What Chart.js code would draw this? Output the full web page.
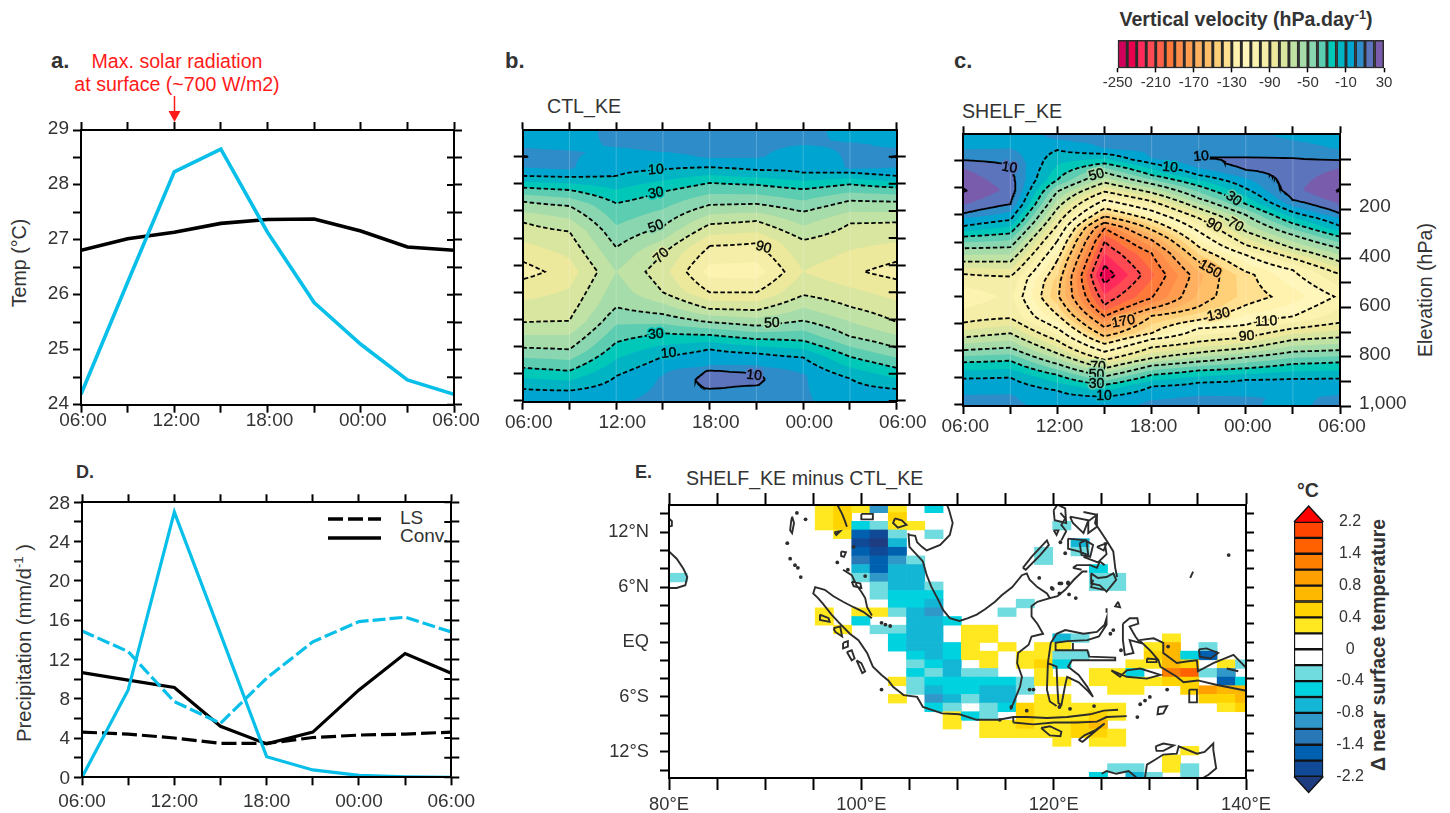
<!DOCTYPE html>
<html>
<head>
<meta charset="utf-8">
<title>Diurnal cycle panels</title>
<script src="https://cdn.jsdelivr.net/npm/chart.js@4"></script>
<style>
  body { margin: 0; background: #fff; width: 1450px; height: 813px; overflow: hidden; position: relative; font-family: "Liberation Sans", Arial, sans-serif; color: #333; }
  canvas { position: absolute; }
  .t { position: absolute; white-space: nowrap; transform: translate(-50%, -50%); line-height: 1; }
  .l { position: absolute; white-space: nowrap; transform: translateY(-50%); line-height: 1; }
  .v { position: absolute; white-space: nowrap; transform: translate(-50%, -50%) rotate(-90deg); line-height: 1; }
  sup { font-size: 65%; line-height: 0; }
  svg { position: absolute; left: 0; top: 0; }
</style>
</head>
<body>
<div class="l" style="left:51px;top:61px;font-size:22px;font-weight:bold">a.</div>
<div class="l" style="left:505px;top:61px;font-size:22px;font-weight:bold">b.</div>
<div class="l" style="left:954px;top:61px;font-size:22px;font-weight:bold">c.</div>
<div class="l" style="left:76px;top:472px;font-size:18px;font-weight:bold">D.</div>
<div class="l" style="left:635px;top:472px;font-size:18px;font-weight:bold">E.</div>
<div class="t" style="left:177px;top:62px;font-size:19.6px;color:#ff1a1a">Max. solar radiation</div>
<div class="t" style="left:177px;top:85px;font-size:19.6px;color:#ff1a1a">at surface (~700 W/m2)</div>
<div class="l" style="left:547px;top:107px;font-size:19.6px">CTL_KE</div>
<div class="l" style="left:962px;top:112px;font-size:19.6px">SHELF_KE</div>
<div class="l" style="left:686px;top:479px;font-size:19.6px">SHELF_KE minus CTL_KE</div>
<div class="t" style="left:1246px;top:20px;font-size:19.6px;font-weight:bold">Vertical velocity (hPa.day<sup>-1</sup>)</div>
<div class="v" style="left:20px;top:263px;font-size:19.6px">Temp (°C)</div>
<div class="v" style="left:24px;top:643px;font-size:20.2px">Precipitation (mm/d<sup>-1</sup> )</div>
<div class="v" style="left:1426px;top:290px;font-size:19.6px">Elevation (hPa)</div>
<div class="t" style="left:1308px;top:491px;font-size:19.5px;font-weight:bold">°C</div>
<div class="v" style="left:1379px;top:645px;font-size:19.4px;font-weight:bold">Δ near surface temperature</div>
<div class="l" style="left:400px;top:517px;font-size:19px">LS</div>
<div class="l" style="left:400px;top:535px;font-size:19px">Conv.</div>
<svg width="1450" height="813" style="z-index:5;pointer-events:none">
  <line x1="174.5" y1="96" x2="174.5" y2="113" stroke="#ff1a1a" stroke-width="1.5"/>
  <polygon points="168.5,111 180.5,111 174.5,122" fill="#ff1a1a"/>
  <line x1="328" y1="519" x2="381" y2="519" stroke="#000" stroke-width="3.5" stroke-dasharray="15 5"/>
  <line x1="328" y1="538" x2="381" y2="538" stroke="#000" stroke-width="3.5"/>
</svg>
<script>
// ---------- data ----------
const hourLabels = ['06:00', '', '12:00', '', '18:00', '', '00:00', '', '06:00'];
const hourIndex = [0, 1, 2, 3, 4, 5, 6, 7, 8];

// panel a
const tempTicks = [24, 24.5, 25, 25.5, 26, 26.5, 27, 27.5, 28, 28.5, 29];
const tempTickLabels = ['24', '', '25', '', '26', '', '27', '', '28', '', '29'];
const tempShelf = [24.19, 26.23, 28.24, 28.65, 27.14, 25.86, 25.1, 24.45, 24.19];
const tempCtl = [26.81, 27.02, 27.14, 27.3, 27.37, 27.38, 27.16, 26.87, 26.81];

// panel D
const rainTicks = [0, 2, 4, 6, 8, 10, 12, 14, 16, 18, 20, 22, 24, 26, 28];
const rainTickLabels = ['0', '', '4', '', '8', '', '12', '', '16', '', '20', '', '24', '', '28'];
const convShelf = [0, 8.9, 27, 14.6, 2.1, 0.75, 0.2, 0.05, 0];
const lsShelf = [14.9, 12.8, 7.7, 5.5, 10.1, 13.8, 15.85, 16.3, 14.8];
const convCtl = [10.65, 9.9, 9.15, 5.2, 3.4, 4.6, 8.9, 12.6, 10.6];
const lsCtl = [4.6, 4.4, 4.0, 3.45, 3.45, 4.05, 4.3, 4.4, 4.6];

// vertical velocity colour key
const velLevels = [-250, -240, -230, -220, -210, -200, -190, -180, -170, -160, -150, -140, -130, -120, -110, -100, -90, -80, -70, -60, -50, -40, -30, -20, -10, 0, 10, 20, 30];
const velColors = ['#d0005a', '#e8004f', '#ff2a5c', '#ff4a54', '#ff6048', '#ff7a3a', '#ff8c48', '#ff9c50', '#ffb060', '#ffbe68', '#ffd078', '#ffe090', '#fff2ae', '#fff6bc', '#fdf3b0', '#f5eea8', '#ece89c', '#d9e6a0', '#c0e2a4', '#a6dcaa', '#8ad6b0', '#5ccdb0', '#00c8b8', '#00b4c4', '#00a4d0', '#2e8cc8', '#5c74bc', '#7a5cac'];
const velTicks = [-250, -210, -170, -130, -90, -50, -10, 30];

// model level of each tick on the left of panels b and c
const levelTicks = [1, 2, 3, 4, 5, 6, 7, 8, 9, 10];
const pressureTicks = [0, 100, 200, 300, 400, 500, 600, 700, 800, 900, 1000];
const pressureLabels = ['', '', '200', '', '400', '', '600', '', '800', '', '1,000'];

// panel b: [level, velocity] read down each 3-hourly column
const ctl06 = [[.03,-4],[.6,-1],[.75,1],[1,11],[1.3,1],[1.5,-1],[1.71,-10],[2.14,-30],[2.66,-50],[3.42,-70],[4.87,-90],[5.24,-94.5],[5.52,-90],[7.1,-70],[8.04,-50],[8.78,-30],[9.56,-10],[10.03,-4]];
const ctl09 = [[.03,-3],[.7,-1],[.85,1],[1.4,1],[1.55,-1],[1.75,-10],[2.23,-30],[2.82,-50],[3.76,-70],[5.24,-85],[7.05,-70],[8.1,-50],[8.89,-30],[9.62,-10],[10.03,-4]];
const ctl12 = [[.03,2],[.6,.5],[.75,-1],[1.71,-10],[2.72,-30],[4.34,-50],[5.24,-60],[6.55,-50],[7.84,-30],[9.08,-10],[10.03,-1]];
const ctl15 = [[.03,3],[.75,1],[.9,-1],[1.47,-10],[2.29,-30],[3.58,-50],[4.56,-70],[5.24,-76],[6,-70],[6.8,-50],[7.51,-30],[8.37,-10],[8.95,-1],[9.15,1],[10.03,3]];
const ctl18 = [[.03,4],[1,1],[1.1,-1],[1.39,-10],[1.97,-30],[2.78,-50],[3.49,-70],[4.29,-90],[5.24,-104],[6,-90],[6.61,-70],[7.1,-50],[7.57,-30],[8.1,-10],[8.6,-1],[8.75,1],[8.9,11],[9.23,14],[9.53,11],[9.7,4],[10.03,3]];
const ctl21 = [[.03,3],[1,1],[1.1,-1],[1.49,-10],[2.04,-30],[2.74,-50],[3.37,-70],[4.19,-90],[5.24,-105],[6,-90],[6.66,-70],[7.23,-50],[7.72,-30],[8.25,-10],[8.6,-1],[8.75,1],[8.98,10.5],[9.2,12],[9.41,10.5],[9.7,3],[10.03,2]];
const ctl00 = [[.03,3],[.5,1],[.65,-1],[1.59,-10],[2.2,-30],[3.03,-50],[4.07,-70],[5.24,-80],[6.1,-70],[7.04,-50],[7.78,-30],[8.4,-10],[8.95,-1],[9.05,1],[10.03,1]];
const ctl03 = [[.03,-3],[.4,-1],[.55,1],[1.4,1],[1.5,-1],[1.59,-10],[2.02,-30],[2.62,-50],[3.46,-70],[5.24,-88],[6.53,-70],[7.63,-50],[8.37,-30],[9.17,-10],[10.03,-3]];
const ctlProfiles = [ctl06, ctl09, ctl12, ctl15, ctl18, ctl21, ctl00, ctl03, ctl06];
// [time, level, text, angle]
const ctlLabels = [[2.85,1.49,'10',-3],[2.85,2.35,'30',-10],[2.85,3.58,'50',-20],[2.97,4.65,'70',-45],[5.15,4.35,'90',15],[5.33,7.14,'50',-2],[2.85,7.55,'30',-5],[3.12,8.25,'10',-5],[4.95,9.07,'10',5]];

// panel c
const shelf06 = [[.03,-5],[.55,-1],[.61,1],[.98,10],[1.28,20],[2.1,31],[2.63,20],[2.94,10],[3.12,0],[3.41,-10],[3.8,-30],[4.23,-50],[4.72,-70],[5.18,-90],[6.01,-108],[6.97,-90],[7.51,-70],[7.98,-50],[8.43,-30],[9.03,-10],[9.57,-1],[9.7,1],[10.04,3]];
const shelf09 = [[.03,-4],[.48,-1],[.61,1],[1.16,10],[2.08,17],[2.6,10],[2.88,0],[3.19,-10],[3.68,-30],[4.19,-50],[4.72,-70],[5.27,-90],[6.01,-97],[6.8,-90],[7.36,-70],[7.89,-50],[8.37,-30],[8.99,-10],[9.51,-1],[9.7,1],[10.04,2]];
const shelf12 = [[.03,2],[.18,.5],[.3,-1],[.61,-10],[1.71,-30],[2.14,-50],[2.76,-70],[3.37,-90],[3.95,-110],[4.66,-130],[5.46,-145],[6.01,-148],[6.68,-130],[7.18,-110],[7.63,-90],[8.1,-70],[8.49,-50],[8.89,-30],[9.47,-10],[10.04,-3]];
const shelf15 = [[.03,3],[.48,1],[.61,-1],[.75,-10],[1.1,-30],[1.44,-50],[1.81,-70],[2.14,-90],[2.45,-110],[2.76,-130],[3.06,-150],[3.28,-170],[3.49,-190],[3.98,-210],[4.87,-230],[5.21,-238],[5.52,-230],[6.32,-210],[6.74,-190],[7.14,-170],[7.48,-150],[7.75,-130],[8.04,-110],[8.34,-90],[8.65,-70],[8.95,-50],[9.26,-30],[9.7,-10],[10.04,-3]];
const shelf18 = [[.03,3],[.85,1],[.95,-1],[1.1,-10],[1.53,-30],[1.86,-50],[2.18,-70],[2.49,-90],[2.84,-110],[3.19,-130],[3.55,-150],[3.92,-170],[4.41,-190],[5.21,-202],[6.07,-190],[6.44,-170],[6.72,-150],[7.36,-130],[7.58,-110],[7.88,-90],[8.28,-70],[8.55,-50],[8.89,-30],[9.32,-10],[9.75,-1],[9.88,1],[10.04,2]];
const shelf21 = [[.03,3],[.55,2],[.9,10.5],[1.28,0],[1.53,-10],[1.93,-30],[2.39,-50],[2.76,-70],[3.12,-90],[3.61,-110],[4.17,-130],[4.72,-150],[5.21,-163],[6.01,-158],[6.38,-150],[6.87,-130],[7.18,-110],[7.67,-90],[8.07,-70],[8.4,-50],[8.73,-30],[9.18,-10],[9.6,-1],[9.72,1],[10.04,2]];
const shelf00 = [[.03,2],[.48,4],[.88,10],[1.1,14],[1.34,10],[1.65,0],[2.02,-10],[2.6,-30],[3,-50],[3.61,-70],[4.11,-90],[4.47,-110],[5.09,-130],[5.21,-134],[6.01,-136],[6.32,-130],[7.05,-110],[7.52,-90],[7.91,-70],[8.24,-50],[8.65,-30],[9.08,-10],[9.63,-1],[9.75,1],[10.04,1]];
const shelf03 = [[.03,-2],[.3,.5],[.91,10],[1.34,15],[2.08,17],[2.45,10],[2.69,0],[2.9,-10],[3.31,-30],[3.74,-50],[4.23,-70],[4.6,-90],[5.03,-110],[6.01,-125],[6.74,-110],[7.18,-90],[7.6,-70],[8.04,-50],[8.49,-30],[9.04,-10],[9.57,-1],[10.04,-2]];
const shelfProfiles = [shelf06, shelf09, shelf12, shelf15, shelf18, shelf21, shelf00, shelf03, shelf06];
const shelfLabels = [[.98,1.26,'10',10],[2.83,1.53,'50',-15],[4.39,1.26,'10',5],[5.05,.85,'10',-5],[5.74,2.41,'30',35],[5.78,3.37,'70',30],[5.32,3.39,'90',30],[5.24,5,'150',30],[3.4,6.93,'170',-10],[5.42,6.68,'130',-12],[6.43,6.93,'110',-3],[6.02,7.48,'90',-5],[2.86,8.59,'70',0],[2.83,8.9,'50',0],[2.83,9.22,'30',0],[2.99,9.69,'10',0]];

// panel E: temperature key
const sstColors = { '2.5': '#ff0000', '2': '#ff4500', '1.6': '#ff6000', '1.25': '#ff7f00', '.95': '#ff9f00', '.7': '#ffb800', '.5': '#ffd400', '.3': '#ffe81f', '-.3': '#70dcdf', '-.5': '#00d2e0', '-.7': '#14b6d6', '-.95': '#3098c8', '-1.25': '#2878b8', '-1.6': '#0060b0', '-2': '#104a96', '-2.5': '#1e3c80' };
const keyValues = [-2, -1.6, -1.25, -.95, -.7, -.5, -.3, 0, 0, .3, .5, .7, .95, 1.25, 1.6, 2];
const keyLabels = ['-2.2', '', '-1.4', '', '-0.8', '', '-0.4', '', '0', '', '0.4', '', '0.8', '', '1.4', '', '2.2'];

// panel E: rows of [column, anomaly] from the north edge southward
const sstRows = [
  [[8,.3],[9,.5],[10,.3],[11,-.95],[12,.3],[14,-.5]],
  [[8,.3],[9,.5],[12,.5]],
  [[8,.3],[9,.5],[10,-.5],[11,-.3],[12,.3],[13,.3],[21,-.3]],
  [[9,.3],[10,-1.6],[11,-2],[12,-.3],[14,-.3]],
  [[10,-2],[11,-2.5],[12,-.7],[22,-.7]],
  [[10,-1.6],[11,-2],[12,-1.6],[20,-.3],[22,-.3]],
  [[10,-1.25],[11,-1.6],[12,-.95],[13,-.3],[20,-.3]],
  [[10,-.7],[11,-1.6],[12,-.7],[13,-.7],[23,-.5]],
  [[0,-.3],[10,-.3],[11,-.95],[12,-.7],[13,-.7],[23,-.3],[24,-.3]],
  [[11,-.3],[12,-.7],[13,-.7],[14,-.3],[23,-.3],[24,-.3]],
  [[11,-.3],[12,-.5],[13,-.5],[14,-.5]],
  [[12,-.5],[13,-.5],[14,-.7],[19,-.3]],
  [[8,.3],[10,.3],[11,.3],[12,-.3],[13,-.7],[14,-.95],[18,-.3]],
  [[8,.3],[10,-.5],[13,-.7],[14,-.7],[15,-.5]],
  [[9,.3],[11,-.3],[12,-.3],[13,-.7],[14,-.7],[16,.3],[17,.3]],
  [[12,-.5],[13,-.7],[14,-.7],[16,.3],[17,.3],[21,-.7],[22,-.3],[27,.3]],
  [[12,-.5],[13,-.7],[14,-.7],[15,-.5],[16,.3],[18,.3],[20,.3],[21,.3],[26,.3],[27,.7],[29,-.3]],
  [[13,-.5],[14,-.7],[15,-.5],[16,.3],[17,.3],[19,.3],[20,.3],[21,-.3],[22,-.3],[26,.5],[27,.7],[28,-.5],[29,-1.6]],
  [[13,-.3],[14,-.5],[15,-.7],[17,.3],[19,.3],[20,.5],[21,-.5],[25,.3],[26,.3],[27,.7],[28,.5],[30,.3],[31,-.3]],
  [[13,-.5],[14,-.3],[15,-.7],[16,-.3],[17,-.3],[20,.3],[23,.3],[24,.3],[25,-.5],[27,1.25],[28,1.6],[29,-.3],[30,-.95]],
  [[12,.3],[13,-.3],[14,-.5],[15,-.5],[16,-.5],[17,-.5],[18,-.5],[19,-.3],[20,.3],[21,.3],[23,.3],[24,.3],[25,.3],[26,.3],[27,.5],[28,.5],[30,-1.6],[31,-.5]],
  [[13,-.3],[14,-.7],[15,-.5],[16,-.5],[17,-.7],[18,-.7],[19,-.3],[24,.3],[25,.3],[28,.5],[29,.95],[30,.7],[31,.7]],
  [[12,.3],[14,-.95],[15,-.7],[16,-.3],[17,-.7],[18,-.7],[20,.3],[21,.3],[29,.5],[30,.5],[31,.7]],
  [[14,-.5],[15,-.3],[17,-.3],[18,-.5],[19,.5],[20,.3],[21,.3],[22,.3],[23,.3],[24,.3],[30,.3],[31,.5]],
  [[15,.3],[16,-.5],[17,-.3],[19,.5],[20,.3],[21,.3],[22,.3],[23,.5],[24,.3]],
  [[15,.3],[17,.3],[18,.3],[19,.5],[20,.3],[21,.3],[22,.5],[23,.7]],
  [[17,.3],[18,.3],[19,.3],[20,.3],[21,.3],[22,.5],[23,.5],[24,.3]],
  [[21,.3],[23,.3],[24,.3]],
  [[28,.3]],
  [[27,.3]],
  [[24,-.3],[25,-.3],[27,.3],[28,-.3]],
  [[23,-.5],[25,-.7],[26,-.3],[28,-.3]]
];
const firstRowLat = 15.08, rowStep = .9457, firstColLon = 80, colStep = 1.9;

const lonTicks = [80, 85, 90, 95, 100, 105, 110, 115, 120, 125, 130, 135, 140];
const lonLabels = ['80°E', '', '', '', '100°E', '', '', '', '120°E', '', '', '', '140°E'];
const latTicks = [-14, -12, -10, -8, -6, -4, -2, 0, 2, 4, 6, 8, 10, 12, 14];
const latLabels = ['', '12°S', '', '', '6°S', '', '', 'EQ', '', '', '6°N', '', '', '12°N', ''];

// coastlines, [lon, lat]
const coastLines = [
  [[80,9.9],[80.8,9.1],[81.5,8],[81.9,7.1],[81.7,6.2],[80.8,5.9],[80,5.9]],
  [[80,13.5],[80.3,13.2],[80.3,12.7],[80,12.6]],
  [[92.8,13.7],[93,13],[92.8,11.9],[92.6,12.2],[92.7,13.2],[92.8,13.7]],
  [[97.5,15],[98,14],[98.3,13.2],[98.5,12.6]],
  [[97.2,12],[97.8,12.1],[97.4,11.7],[97.2,12]],
  [[97.9,9.9],[98.4,9.8],[98.2,9.3],[97.9,9.4],[97.9,9.9]],
  [[98.1,7.9],[99,7.3],[99.5,6.2],[100,5.5],[100.4,4.8],[100.6,3.8],[101.1,2.9]],
  [[99,6.6],[99.9,6.4],[100,5.9],[99.2,6.1],[99,6.6]],
  [[101.1,2.6],[100.2,3.3],[99.2,3.8],[98.1,4.4],[97.1,5],[96.2,5.7],[95.2,6],[95,5.3],[95.5,4.8],[96,4.2],[96.9,3],[97.6,2.2],[98.8,.9],[99.7,.2],[100.6,-1.2],[101.2,-2.7],[102.1,-3.6],[102.8,-4.2],[103.3,-4.9],[104.4,-5.8],[105.8,-6],[106.4,-7.1],[108.4,-7.8],[110.2,-7.9],[112,-8.5],[114.3,-8.5],[115.8,-8.2],[117.2,-8.2],[119.3,-8.3],[121.4,-8.2],[123.8,-7.9],[125.2,-7.5],[126.7,-7.4]],
  [[115.8,-8.8],[117.9,-9],[120,-8.8],[122.4,-8.8],[124.5,-8.7],[125.5,-8.2],[127.6,-8.1]],
  [[115.8,-8.2],[115.8,-8.8]],
  [[98.1,-.1],[98.6,.1],[98.6,-.5],[98.1,-.7],[98.1,-.1]],
  [[98.5,-1.1],[99,-.9],[99.3,-1.8],[99,-2],[98.5,-1.1]],
  [[99.5,-2],[100,-2.3],[100.4,-3.2],[100.1,-3.4],[99.5,-2]],
  [[95.7,3],[96.6,2.6],[96.7,2.2],[95.7,2.4],[95.7,3]],
  [[97.1,1.5],[97.8,1.7],[98,.6],[97.3,1.1],[97.1,1.5]],
  [[100,14],[101.2,14],[101.2,13.4],[100,13.4],[100,14]],
  [[103.5,13.5],[104.2,13.3],[104.7,12.8],[103.8,12.5],[103.3,13],[103.5,13.5]],
  [[104.9,11.7],[105.6,11.6],[105.8,10.9],[106.3,10.4],[106.8,10],[108.2,10.6],[109.2,11.7],[109.5,13],[109.1,14.5],[108.9,15]],
  [[104.9,11.9],[105,10.4],[105.8,9.5],[106.4,8.8],[106.8,7.3],[107.3,6],[108,4.6],[108.5,3.5],[109.2,2.6],[110.2,2.3],[111.1,2.6],[112,3],[112.9,3.6],[113.9,4.4],[114.6,5.1],[115.7,6],[116.7,7.3],[117.2,7.5],[117.5,6.8],[118.3,6],[119.3,5.3],[119.6,4.8],[120.4,5],[121.2,5.7],[122.1,6.8],[123,7.7],[123.5,7.7]],
  [[119.6,4.8],[118.3,4.4],[117.7,3.9],[117.7,2.8],[118.3,2],[118.9,.9],[117.7,.6],[117.4,-.3],[116.3,-1.2],[116.2,-2.3],[116.7,-3.8],[116.5,-4.9],[115.8,-6.7],[115.5,-7.4]],
  [[118.7,-9.4],[119.6,-9.2],[120.8,-9.8],[120.7,-10.3],[119.6,-10.2],[118.7,-9.4]],
  [[122.6,-10.7],[123.2,-10.2],[124.4,-9.6],[125.3,-8.9],[123,-10.9],[122.6,-10.7]],
  [[119.7,-.1],[120.3,.9],[121.2,1.3],[123.1,.9],[124.5,1.1],[125.3,1.9],[125.5,2.6],[125.5,1.9],[124.7,.6],[123.5,.2],[121.4,.1],[120.2,-.1],[120.2,-.9],[122,-.9],[122,-.1]],
  [[122,-.9],[123.5,-.9],[123.7,-1.6],[126.4,-1.7],[126.4,-2],[123.8,-2],[121.9,-2],[121.5,-2.7],[122.6,-3.6],[123.5,-4.9],[124.1,-6],[123.6,-5.4],[122.6,-4.4],[121.4,-3.8],[121.2,-4.7],[120.8,-6.9],[120.5,-6.7],[120.4,-5.2],[120.3,-2.7],[119.4,-2.3]],
  [[119.7,-.1],[119.4,-2.3],[119.3,-5.2],[119.6,-6.5],[120.3,-7]],
  [[127.2,2],[127.9,2.6],[128.7,2.6],[128.8,2],[127.9,1.7],[128.5,.6],[129,-.1],[127.9,.2],[128.3,-1.2],[127.4,-1.4],[127.2,.2],[127.2,2]],
  [[128.9,.2],[130.4,.4],[131.4,-.1],[131.4,-1.2],[132.8,-2.3],[134,-2.1],[134.9,-2],[135,-3.2],[136.6,-2.3],[138.7,-1.4],[139.9,-2.7],[141,-3]],
  [[128.9,.2],[130,-.9],[130.9,-2],[131.1,-2.7],[132.8,-3.8],[133.5,-4.4],[135,-4.2],[137,-4.7],[139.9,-5.3],[141,-5.6]],
  [[126,-3.1],[126.9,-3.8],[127.6,-3.1],[129,-2.9],[131.1,-3.6],[129.7,-4],[127.6,-3.8],[126,-3.1]],
  [[135.1,-.8],[135.9,-.7],[137.1,-1.2],[136.3,-1.8],[135.2,-1.6],[135.1,-.8]],
  [[138,-2.9],[139.2,-3.2]],
  [[129.7,-1.8],[130.7,-1.9],[130.7,-2.2],[129.7,-2.2],[129.7,-1.8]],
  [[134.1,-5.2],[134.9,-5.2],[134.9,-6.6],[134.1,-6.6],[134.1,-5.2]],
  [[130.9,-7.1],[131.8,-7],[131.4,-7.8],[130.8,-7.9],[130.9,-7.1]],
  [[116.8,8.1],[117.7,9.3],[119.3,11.1],[119.5,10.6],[118.6,9.5],[117.1,7.9],[116.8,8.1]],
  [[123.9,7.5],[124.6,7],[125.5,7.1],[126.2,7.5],[126.5,6.8],[125.5,5.5],[124.8,6.2],[123.9,6.4],[123.9,7.5]],
  [[123.1,14.2],[124.5,13.9],[124.3,13],[125.5,11.1],[126.2,9.9],[126.4,8.1],[126.6,7.1]],
  [[121.5,11.3],[123.4,11.1],[123.6,9.5],[122.6,9.9],[121.5,10.2],[121.5,11.3]],
  [[121.7,13.7],[123.6,13.3],[123.1,11.9],[122,13],[121.7,13.7]],
  [[120,14.4],[120.4,15],[121.2,14.6],[121.3,13],[120.1,13.3],[120,14.4]],
  [[120,12.2],[120.5,12.2],[120.3,11.7],[120,12.2]],
  [[123.1,9.3],[124.6,8.7],[125.5,9.6],[125.3,10.9]],
  [[120.7,14.1],[121.2,13.5],[120.8,12.8],[121.3,12.1],[120.8,11.1]],
  [[123.6,13.2],[124.5,13.9],[124.5,12.6],[123.6,11.9],[123.6,13.2]],
  [[122.7,10.8],[123.3,11.1],[124.1,10.6],[123.8,9.3],[122.9,9.5],[122.7,10.8]],
  [[124.5,10.4],[125.5,10.8],[125.2,10],[124.5,10.4]],
  [[122,8.1],[122.4,8.4],[123.8,8.4],[124.5,8.1],[124.8,8.8],[125.3,8.4]],
  [[122.9,7.9],[122,8.1]],
  [[124.1,6.8],[123.9,6],[125.2,5.7]],
  [[126.7,4.4],[126.4,3.9],[126.9,3.8],[126.7,4.4]],
  [[125.5,3.7],[125.5,3.2]],
  [[134.5,7.7],[134.2,7]],
  [[125,-14.4],[125.5,-14.1],[126.5,-14.4],[127.8,-14.1],[128.6,-14.8]],
  [[129.5,-14.8],[129.7,-13.4],[130.5,-12.9],[131.4,-12.3],[132.8,-12.2],[133,-11.4],[134.9,-12.2],[135.7,-12],[136.6,-11.1],[136.6,-11.8],[136.9,-13.8],[136.1,-14.5],[135.6,-14.8]],
  [[130.6,-11.4],[131.4,-11.1],[132.5,-11.3],[131.4,-11.9],[130.7,-11.9],[130.6,-11.4]]
];
const islandLon = [93.3,94.2,92.3,92.6,93.1,93.4,93.7,99.2,97.5,100.4,98.6,102.1,102.1,102.5,103,118.5,121.2,120.7,119.9,120.6,121.5,126.2,125.9,127,131.8,130,129.5,129,131.9,128.7,124.2,121.7,120.6,115.6,117.2,114.4,117.9,117.5,138.2,121.6,122.3,120.8,121.5,120.6,119.8];
const islandLat = [14.1,13.4,10.8,9.1,8.4,8.1,7.1,10.4,8.7,7.2,7.9,-5.2,2.1,1.9,1.75,7,9.7,10.9,5.8,6.4,6.4,1.3,.9,-.9,-5.2,-6,-6.4,-6.8,-.5,-8.2,-7,-7.3,-7.1,-7.1,-7.5,-8.5,-5.2,-5.2,9.5,5.2,4.8,6.4,6.5,5.3,5.9];

// ---------- helpers ----------
Chart.defaults.font.family = '"Liberation Sans", Arial, sans-serif';
Chart.defaults.color = '#333';
Chart.defaults.animation = false;
Chart.defaults.plugins.legend.display = false;
Chart.defaults.plugins.tooltip.enabled = false;

// puts a canvas on the page so that the plot area lands on the given rectangle
function panel(plot, margin, config) {
  const canvas = document.createElement('canvas');
  const left = Math.floor(plot.l - margin.l), top = Math.floor(plot.t - margin.t);
  const w = Math.ceil(plot.r + margin.r) - left, h = Math.ceil(plot.b + margin.b) - top;
  canvas.width = w; canvas.height = h;
  canvas.style.left = left + 'px'; canvas.style.top = top + 'px';
  canvas.style.width = w + 'px'; canvas.style.height = h + 'px';
  document.body.appendChild(canvas);
  const sizes = { left: plot.l - left, right: left + w - plot.r, top: plot.t - top, bottom: top + h - plot.b };
  const pad = { ...sizes };
  for (const s of Object.values(config.options.scales)) {
    if (s.display === false) continue;
    pad[s.position] = 0;
    s.afterFit = sc => {
      // first and last labels may hang over the plot, they should not shrink it
      sc.paddingLeft = sc.paddingRight = sc.paddingTop = sc.paddingBottom = 0;
      if (sc.isHorizontal()) sc.height = sizes[sc.position]; else sc.width = sizes[sc.position];
    };
  }
  config.options.layout = { autoPadding: false, padding: pad };
  config.options.responsive = false;
  return new Chart(canvas, config);
}

function axis(position, values, labels, extra) {
  const e = extra || {};
  return {
    type: 'linear', position: position, min: e.min, max: e.max, reverse: !!e.reverse, offset: false,
    border: { display: true, width: 2, color: '#000', z: 1 },
    grid: { drawOnChartArea: false, offset: false, tickColor: '#000', tickWidth: 2, tickLength: e.len || 8 },
    ticks: {
      display: !!labels, autoSkip: false, maxRotation: 0, padding: e.pad === undefined ? 4 : e.pad,
      labelOffset: e.shift || 0, color: '#333', font: { size: e.size || 19 },
      callback: (v, i) => labels ? labels[i] : ''
    },
    afterBuildTicks: s => { s.ticks = values.map(v => ({ value: v })); }
  };
}

function series(values) {
  return values.map((v, i) => ({ x: hourIndex[i], y: v }));
}

function lineSet(values, color, width, dash) {
  return { type: 'line', data: series(values), borderColor: color, borderWidth: width, borderDash: dash || [], pointRadius: 0, tension: 0, fill: false, borderJoinStyle: 'miter' };
}

// tick marks that also reach into the plot on the right side
const innerTicks = {
  id: 'innerTicks',
  afterDraw(chart, args, opts) {
    if (!opts.len) return;
    const s = chart.scales[opts.scale], ctx = chart.ctx;
    ctx.save(); ctx.strokeStyle = '#000'; ctx.lineWidth = 2; ctx.beginPath();
    s.ticks.forEach(t => {
      const y = s.getPixelForValue(t.value);
      ctx.moveTo(s.left, y); ctx.lineTo(s.left - opts.len, y);
    });
    ctx.stroke(); ctx.restore();
  }
};
Chart.register(innerTicks);

function profileValue(prof, r) {
  for (let i = 1; i < prof.length; i++) {
    if (r <= prof[i][0]) {
      const f = (r - prof[i - 1][0]) / (prof[i][0] - prof[i - 1][0]);
      return prof[i - 1][1] + (prof[i][1] - prof[i - 1][1]) * Math.max(0, f);
    }
  }
  return prof[prof.length - 1][1];
}

// triangles of the field given by the column profiles, on thin rows so isolines do not stair-step
function buildField(profiles) {
  const all = profiles.flat().map(p => p[0]);
  for (let k = 1; k < 201; k++) all.push(k * .05);
  const lo = Math.min(...profiles.flat().map(p => p[0])), hi = Math.max(...profiles.flat().map(p => p[0]));
  const rows = [...new Set(all.map(r => +r.toFixed(3)))].filter(r => r >= lo && r <= hi).sort((a, b) => a - b);
  const cols = profiles.map(prof => rows.map(r => profileValue(prof, r)));
  const tris = [];
  for (let i = 0; i < cols.length - 1; i++) {
    for (let j = 0; j < rows.length - 1; j++) {
      const a = { x: i, y: rows[j], v: cols[i][j] }, b = { x: i + 1, y: rows[j], v: cols[i + 1][j] };
      const c = { x: i + 1, y: rows[j + 1], v: cols[i + 1][j + 1] }, d = { x: i, y: rows[j + 1], v: cols[i][j + 1] };
      const m = { x: i + .5, y: (rows[j] + rows[j + 1]) / 2, v: (a.v + b.v + c.v + d.v) / 4 };
      tris.push([a, b, m], [b, c, m], [c, d, m], [d, a, m]);
    }
  }
  return tris;
}

function cross(p, q, t) {
  const f = (t - p.v) / (q.v - p.v);
  return { x: p.x + (q.x - p.x) * f, y: p.y + (q.y - p.y) * f, v: t };
}

// isolines joined into polylines, separated by null points for the dataset
function isoline(tris, level) {
  const t = level + 1e-6, segs = [], ends = new Map();
  const key = p => p.x.toFixed(4) + ',' + p.y.toFixed(4);
  tris.forEach(tri => {
    const pts = [];
    for (let i = 0; i < 3; i++) {
      const p = tri[i], q = tri[(i + 1) % 3];
      if ((p.v >= t) !== (q.v >= t)) pts.push(cross(p, q, t));
    }
    if (pts.length === 2) {
      const n = segs.length;
      segs.push(pts);
      pts.forEach(p => { const k = key(p); if (!ends.has(k)) ends.set(k, []); ends.get(k).push(n); });
    }
  });
  const used = new Array(segs.length).fill(false), out = [];
  const walk = (start, line) => {
    let cur = start;
    while (true) {
      const next = (ends.get(key(cur)) || []).find(n => !used[n]);
      if (next === undefined) return;
      used[next] = true;
      const s = segs[next];
      cur = key(s[0]) === key(cur) ? s[1] : s[0];
      line.push(cur);
    }
  };
  segs.forEach((s, n) => {
    if (used[n]) return;
    used[n] = true;
    const tail = [s[0], s[1]];
    walk(s[1], tail);
    const head = [];
    walk(s[0], head);
    head.reverse().concat(tail).forEach(p => out.push({ x: p.x, y: p.y }));
    out.push({ x: null, y: null });
  });
  return out;
}

// filled bands, painted from the lowest class upward
const contourFill = {
  id: 'contourFill',
  beforeDatasetsDraw(chart, args, opts) {
    if (!opts.tris) return;
    const ctx = chart.ctx, a = chart.chartArea, sx = chart.scales.x, sy = chart.scales.y;
    ctx.save();
    ctx.beginPath(); ctx.rect(a.left, a.top, a.width, a.height); ctx.clip();
    ctx.fillStyle = velColors[0];
    ctx.fillRect(a.left, a.top, a.width, a.height);
    for (let k = 1; k < velColors.length; k++) {
      const t = velLevels[k];
      ctx.beginPath();
      opts.tris.forEach(tri => {
        if (tri[0].v < t && tri[1].v < t && tri[2].v < t) return;
        const poly = [];
        for (let i = 0; i < 3; i++) {
          const p = tri[i], q = tri[(i + 1) % 3];
          if (p.v >= t) poly.push(p);
          if ((p.v >= t) !== (q.v >= t)) poly.push(cross(p, q, t));
        }
        poly.forEach((p, i) => {
          const px = sx.getPixelForValue(p.x), py = sy.getPixelForValue(p.y);
          if (i) ctx.lineTo(px, py); else ctx.moveTo(px, py);
        });
        ctx.closePath();
      });
      ctx.fillStyle = velColors[k];
      ctx.fill();
    }
    // faint model columns showing through the shading
    ctx.strokeStyle = 'rgba(255,255,255,.22)'; ctx.lineWidth = 1; ctx.beginPath();
    hourIndex.forEach(i => { const px = sx.getPixelForValue(i); ctx.moveTo(px, a.top); ctx.lineTo(px, a.bottom); });
    ctx.stroke();
    ctx.restore();
  }
};
const contourText = {
  id: 'contourText',
  afterDatasetsDraw(chart, args, opts) {
    if (!opts.labels) return;
    const ctx = chart.ctx, sx = chart.scales.x, sy = chart.scales.y;
    opts.labels.forEach(l => {
      // the dashed line stops under its label, so knock it out with the local shade
      const col = Math.min(7, Math.floor(l[0])), f = l[0] - col;
      const v = profileValue(opts.profiles[col], l[1]) * (1 - f) + profileValue(opts.profiles[col + 1], l[1]) * f;
      const shade = velColors[Math.max(0, Math.min(27, Math.floor((v + 250) / 10)))];
      ctx.save();
      ctx.translate(sx.getPixelForValue(l[0]), sy.getPixelForValue(l[1]));
      ctx.rotate(l[3] * Math.PI / 180);
      ctx.font = '14px "Liberation Sans"';
      ctx.textAlign = 'center'; ctx.textBaseline = 'middle';
      ctx.lineWidth = 3.5; ctx.strokeStyle = shade;
      ctx.strokeText(l[2], 0, 0);
      ctx.lineWidth = .4; ctx.strokeStyle = '#000';
      ctx.strokeText(l[2], 0, 0);
      ctx.fillStyle = '#000';
      ctx.fillText(l[2], 0, 0);
      ctx.restore();
    });
  }
};
Chart.register(contourFill, contourText);

function contourSets(tris, levels) {
  return levels.map(lv => ({
    type: 'scatter', showLine: true, data: isoline(tris, lv), borderColor: '#000', borderWidth: 1.8,
    borderDash: lv < 0 ? [4.5, 2.5] : [], pointRadius: 0, spanGaps: false, fill: false
  }));
}

// ---------- panel a ----------
panel({ l: 81, t: 130, r: 454, b: 404.7 }, { l: 72, t: 12, r: 32, b: 30 }, {
  type: 'line',
  data: { datasets: [lineSet(tempShelf, '#07bfe8', 3.6), lineSet(tempCtl, '#000', 3.6)] },
  options: {
    scales: {
      x: axis('bottom', hourIndex, hourLabels, { min: 0, max: 8, pad: -3, shift: 2 }),
      x2: axis('top', hourIndex, null, { min: 0, max: 8 }),
      y: axis('left', tempTicks, tempTickLabels, { min: 24, max: 29, shift: -1 }),
      y2: axis('right', tempTicks, null, { min: 24, max: 29 })
    },
    plugins: { innerTicks: { scale: 'y2', len: 7 } }
  }
});

// ---------- panel D ----------
panel({ l: 82, t: 502.3, r: 451.3, b: 777.3 }, { l: 72, t: 12, r: 32, b: 35 }, {
  type: 'line',
  data: { datasets: [
    lineSet(convShelf, '#07bfe8', 3.2), lineSet(lsShelf, '#07bfe8', 3.2, [13, 4]),
    lineSet(convCtl, '#000', 3.2), lineSet(lsCtl, '#000', 3.2, [15, 5])
  ] },
  options: {
    scales: {
      x: axis('bottom', hourIndex, hourLabels, { min: 0, max: 8, pad: 5 }),
      x2: axis('top', hourIndex, null, { min: 0, max: 8 }),
      y: axis('left', rainTicks, rainTickLabels, { min: 0, max: 28, shift: 1 }),
      y2: axis('right', rainTicks, null, { min: 0, max: 28 })
    },
    plugins: { innerTicks: { scale: 'y2', len: 7 } }
  }
});

// ---------- panel b ----------
const ctlTris = buildField(ctlProfiles);
panel({ l: 522.7, t: 130.3, r: 896.7, b: 401.7 }, { l: 30, t: 12, r: 30, b: 32 }, {
  type: 'scatter',
  data: { datasets: contourSets(ctlTris, [10, -10, -30, -50, -70, -90]) },
  options: {
    scales: {
      x: axis('bottom', hourIndex, hourLabels, { min: 0, max: 8, pad: 2, shift: 6 }),
      x2: axis('top', hourIndex, null, { min: 0, max: 8 }),
      y: axis('left', levelTicks, null, { min: .03, max: 10.03, reverse: true, len: 9 }),
      y2: axis('right', levelTicks, null, { min: .03, max: 10.03, reverse: true, len: 9 })
    },
    plugins: { contourFill: { tris: ctlTris }, contourText: { labels: ctlLabels, profiles: ctlProfiles }, innerTicks: { scale: 'y2', len: 8 } }
  }
});

// ---------- panel c ----------
const shelfTris = buildField(shelfProfiles);
panel({ l: 963.3, t: 134.3, r: 1340, b: 406 }, { l: 30, t: 12, r: 75, b: 32 }, {
  type: 'scatter',
  data: { datasets: contourSets(shelfTris, [30, 10, -10, -30, -50, -70, -90, -110, -130, -150, -170, -190, -210, -230]) },
  options: {
    scales: {
      x: axis('bottom', hourIndex, hourLabels, { min: 0, max: 8, pad: 1, shift: 2 }),
      x2: axis('top', hourIndex, null, { min: 0, max: 8 }),
      y: axis('left', levelTicks, null, { min: .03, max: 10.04, reverse: true, len: 9 }),
      y2: axis('right', pressureTicks, pressureLabels, { min: -104, max: 1000, reverse: true, len: 11, shift: -2, pad: 8 })
    },
    plugins: { contourFill: { tris: shelfTris }, contourText: { labels: shelfLabels, profiles: shelfProfiles } }
  }
});

// ---------- vertical velocity key ----------
panel({ l: 1117.7, t: 40, r: 1384, b: 68.3 }, { l: 20, t: 1, r: 14, b: 26 }, {
  type: 'bar',
  data: { datasets: [{
    data: velColors.map((c, i) => ({ x: velLevels[i] + 5, y: [0, 1] })),
    backgroundColor: velColors, borderColor: '#2a2a2a', borderWidth: 1.8, barPercentage: 1, categoryPercentage: 1, borderSkipped: false
  }] },
  options: {
    scales: {
      x: (() => {
        const a = axis('bottom', velTicks, velTicks.map(String), { min: -250, max: 30, len: 4, pad: 2, size: 15 });
        a.grid.tickWidth = 1.5; a.border.display = false;
        return a;
      })(),
      y: { display: false, min: 0, max: 1 }
    }
  }
});

// ---------- temperature key ----------
const keyTriColors = [sstColors['-2.5'], sstColors['2.5']];
panel({ l: 1294, t: 506, r: 1323.3, b: 792.5 }, { l: 4, t: 2, r: 42, b: 2 }, {
  type: 'bar',
  data: { datasets: [
    {
      data: keyValues.map((v, i) => ({ x: .5, y: [i, i + 1], v: v })),
      backgroundColor: ctx => ctx.raw && ctx.raw.v ? sstColors[String(ctx.raw.v).replace('0.', '.')] : '#fff',
      borderColor: '#111', borderWidth: 1.5, borderSkipped: false, barPercentage: 1, categoryPercentage: 1
    },
    { type: 'line', data: [{ x: 0, y: 16 }, { x: .5, y: 17 }, { x: 1, y: 16 }], borderColor: '#111', borderWidth: 1.5, backgroundColor: keyTriColors[1], fill: { value: 16 }, pointRadius: 0, tension: 0, clip: false },
    { type: 'line', data: [{ x: 0, y: 0 }, { x: .5, y: -1 }, { x: 1, y: 0 }], borderColor: '#111', borderWidth: 1.5, backgroundColor: keyTriColors[0], fill: { value: 0 }, pointRadius: 0, tension: 0, clip: false }
  ] },
  options: {
    scales: {
      x: { type: 'linear', display: false, min: 0, max: 1, offset: false, grid: { offset: false } },
      y: {
        type: 'linear', position: 'right', min: -1, max: 17, border: { display: false }, grid: { display: false },
        ticks: { autoSkip: false, padding: 5, crossAlign: 'center', color: '#333', font: { size: 16 }, callback: (v, i) => keyLabels[i] },
        afterBuildTicks: s => { s.ticks = keyLabels.map((l, i) => ({ value: i })); }
      }
    }
  }
});

// ---------- panel E ----------
const sstCells = [];
sstRows.forEach((row, r) => row.forEach(c => {
  const north = firstRowLat - r * rowStep;
  sstCells.push({ x: firstColLon + (c[0] + .5) * colStep, y: [north - rowStep, north], v: c[1] });
}));
const coastPoints = coastLines.flatMap(l => l.map(p => ({ x: p[0], y: p[1] })).concat([{ x: null, y: null }]));
const islandPoints = islandLon.map((lon, i) => ({ x: lon, y: islandLat[i] }));

panel({ l: 669, t: 505, r: 1246, b: 778 }, { l: 62, t: 13, r: 30, b: 35 }, {
  type: 'bar',
  data: { datasets: [
    { type: 'scatter', showLine: true, data: coastPoints, borderColor: '#2c2c2c', borderWidth: 1.9, pointRadius: 0, spanGaps: false, order: 1 },
    { type: 'scatter', data: islandPoints, backgroundColor: '#2c2c2c', borderWidth: 0, pointRadius: 1.9, order: 1 },
    {
      data: sstCells, backgroundColor: ctx => ctx.raw ? sstColors[String(ctx.raw.v).replace('0.', '.')] : '#fff',
      barPercentage: 1, categoryPercentage: 1, grouped: false, order: 2
    }
  ] },
  options: {
    scales: {
      x: axis('bottom', lonTicks, lonLabels, { min: 80, max: 140, len: 12, pad: 4, size: 18.3 }),
      x2: axis('top', lonTicks, null, { min: 80, max: 140, len: 12 }),
      y: axis('left', latTicks, latLabels, { min: -14.86, max: 14.97, len: 9, pad: 11, size: 18.3 }),
      y2: axis('right', latTicks, null, { min: -14.86, max: 14.97, len: 8 })
    }
  }
});
</script>
</body>
</html>
